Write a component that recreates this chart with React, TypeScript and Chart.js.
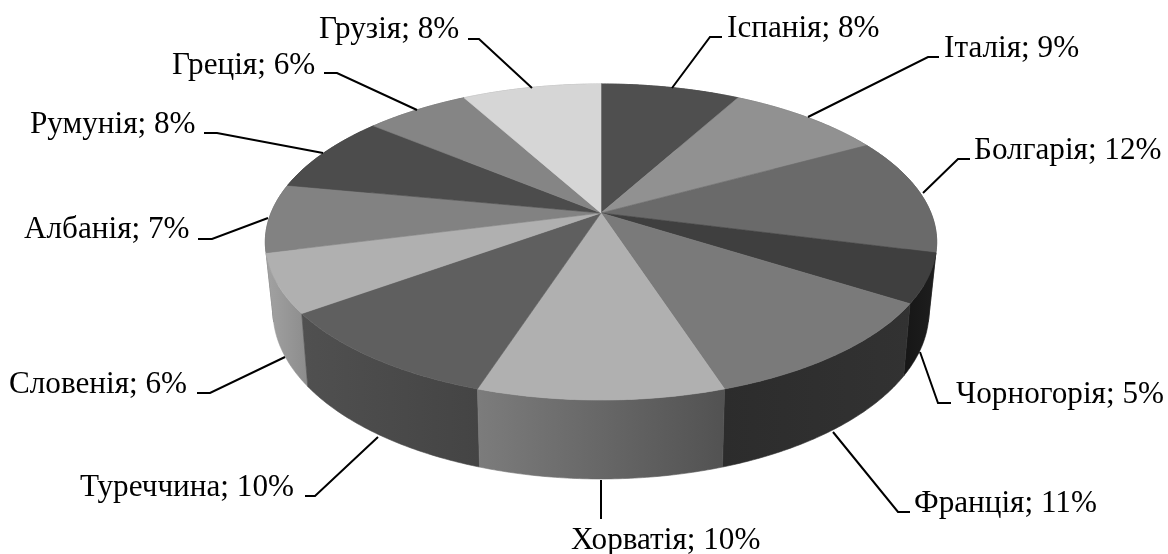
import React, { useEffect, useRef } from "react";
import { Chart, ArcElement, PieController } from "chart.js";

const categories = ["Іспанія", "Італія", "Болгарія", "Чорногорія", "Франція", "Хорватія", "Туреччина", "Словенія", "Албанія", "Румунія", "Греція", "Грузія"];
const shares = [8, 9, 12, 5, 11, 10, 10, 6, 7, 8, 6, 8];
const topColors = ["#4f4f4f", "#919191", "#6a6a6a", "#3f3f3f", "#7a7a7a", "#b0b0b0", "#5f5f5f", "#b0b0b0", "#828282", "#4c4c4c", "#858585", "#d6d6d6"];
const sideLeft = ["#3c3c3c", "#6e6e6e", "#505050", "#161616", "#2c2c2c", "#7c7c7c", "#505050", "#a2a2a2", "#626262", "#3a3a3a", "#656565", "#a2a2a2"];
const sideRight = ["#3c3c3c", "#6e6e6e", "#505050", "#1e1e1e", "#323232", "#525252", "#444444", "#8c8c8c", "#626262", "#3a3a3a", "#656565", "#a2a2a2"];

// Leader line + label placement, in category order
const labelX = [727, 944, 974, 956, 914, 571, 80, 9, 24, 30, 172, 319];
const labelY = [37, 57, 159, 403, 512, 549, 496, 393, 238, 133, 74, 38];
const leaders = [
  [[672, 88], [710, 37], [722, 37]],
  [[808, 117], [928, 57], [939, 57]],
  [[923, 193], [958, 159], [970, 159]],
  [[920, 352], [938, 403], [951, 403]],
  [[833, 432], [898, 512], [910, 512]],
  [[601, 480], [601, 519]],
  [[378, 437], [315, 496], [305, 496]],
  [[285, 357], [210, 393], [197, 393]],
  [[268, 218], [212, 239], [198, 239]],
  [[323, 153], [217, 133], [204, 133]],
  [[417, 110], [337, 73], [324, 73]],
  [[532, 88], [479, 39], [468, 39]],
];

// Perspective of the top and bottom discs
const TOP = { cx: 601, cy: 213, a: 330, b: 152.7, p: 0.1835 };
const BOTTOM = { cx: 601, cy: 279.7, a: 322, b: 161.4, p: 0.19 };
type Plane = typeof TOP;

const project = (pl: Plane, ang: number): [number, number] => {
  const X = Math.cos(ang);
  const Y = Math.sin(ang);
  const w = 1 - pl.p * Y;
  return [pl.cx + (pl.a * X) / w, pl.cy + (pl.b * Y) / w];
};

const samples = (s: number, e: number) => {
  const n = Math.max(2, Math.ceil((e - s) / 0.01));
  const out: number[] = [];
  for (let i = 0; i <= n; i++) out.push(s + ((e - s) * i) / n);
  return out;
};

class Arc3D extends ArcElement {
  static id = "arc3d";
  draw(ctx: CanvasRenderingContext2D) {
    const self = this as any;
    ctx.save();
    ctx.beginPath();
    ctx.moveTo(TOP.cx, TOP.cy);
    for (const a of samples(self.startAngle, self.endAngle)) {
      const [x, y] = project(TOP, a);
      ctx.lineTo(x, y);
    }
    ctx.closePath();
    ctx.fillStyle = self.options.backgroundColor;
    ctx.strokeStyle = self.options.backgroundColor;
    ctx.lineWidth = 0.6;
    ctx.fill();
    ctx.stroke();
    ctx.restore();
  }
}

class Pie3D extends PieController {
  static id = "pie3d";
  static defaults = { ...(PieController as any).defaults, dataElementType: "arc3d" };
  static overrides = (PieController as any).overrides;
}

Chart.register(Arc3D as any, Pie3D as any);

const sidesPlugin = {
  id: "sides",
  beforeDatasetsDraw(chart: any) {
    const ctx: CanvasRenderingContext2D = chart.ctx;
    const arcs = chart.getDatasetMeta(0).data.map((arc: any, i: number) => ({ arc, i }));
    // Paint from the back of the disc to the front.
    arcs.sort((p: any, q: any) => Math.sin((p.arc.startAngle + p.arc.endAngle) / 2) - Math.sin((q.arc.startAngle + q.arc.endAngle) / 2));
    arcs.forEach(({ arc, i }: any) => {
      const angles = samples(arc.startAngle, arc.endAngle);
      const top = angles.map((a) => project(TOP, a));
      const bot = angles.map((a) => project(BOTTOM, a));
      const xs = [...top, ...bot].map((q) => q[0]);
      const grad = ctx.createLinearGradient(Math.min(...xs), 0, Math.max(...xs), 0);
      grad.addColorStop(0, sideLeft[i]);
      grad.addColorStop(1, sideRight[i]);
      ctx.save();
      ctx.beginPath();
      top.forEach((q, k) => (k ? ctx.lineTo(q[0], q[1]) : ctx.moveTo(q[0], q[1])));
      [...bot].reverse().forEach((q) => ctx.lineTo(q[0], q[1]));
      ctx.closePath();
      ctx.fillStyle = grad;
      ctx.strokeStyle = grad;
      ctx.lineWidth = 0.6;
      ctx.fill();
      ctx.stroke();
      ctx.restore();
    });
  },
};

const labelsPlugin = {
  id: "labels3d",
  afterDatasetsDraw(chart: any) {
    const ctx: CanvasRenderingContext2D = chart.ctx;
    ctx.save();
    ctx.strokeStyle = "#000000";
    ctx.lineWidth = 2;
    ctx.lineJoin = "miter";
    leaders.forEach((pts) => {
      ctx.beginPath();
      pts.forEach((q, k) => (k ? ctx.lineTo(q[0], q[1]) : ctx.moveTo(q[0], q[1])));
      ctx.stroke();
    });
    ctx.fillStyle = "#000000";
    ctx.font = '31.2px "Liberation Serif"';
    ctx.textAlign = "left";
    ctx.textBaseline = "alphabetic";
    categories.forEach((c, i) => ctx.fillText(`${c}; ${shares[i]}%`, labelX[i], labelY[i]));
    ctx.restore();
  },
};

export default function App() {
  const ref = useRef<HTMLCanvasElement>(null);
  useEffect(() => {
    document.body.style.margin = "0";
    const chart = new Chart(ref.current as HTMLCanvasElement, {
      type: "pie3d" as any,
      data: {
        labels: categories,
        datasets: [{ data: shares, backgroundColor: topColors, borderWidth: 0 }],
      },
      options: {
        responsive: false,
        animation: false,
        plugins: { legend: { display: false }, tooltip: { enabled: false } },
      } as any,
      plugins: [sidesPlugin, labelsPlugin] as any,
    });
    return () => chart.destroy();
  }, []);
  return (
    <div style={{ width: 1168, height: 554, background: "#ffffff" }}>
      <canvas ref={ref} width={1168} height={554} style={{ display: "block" }} />
    </div>
  );
}
